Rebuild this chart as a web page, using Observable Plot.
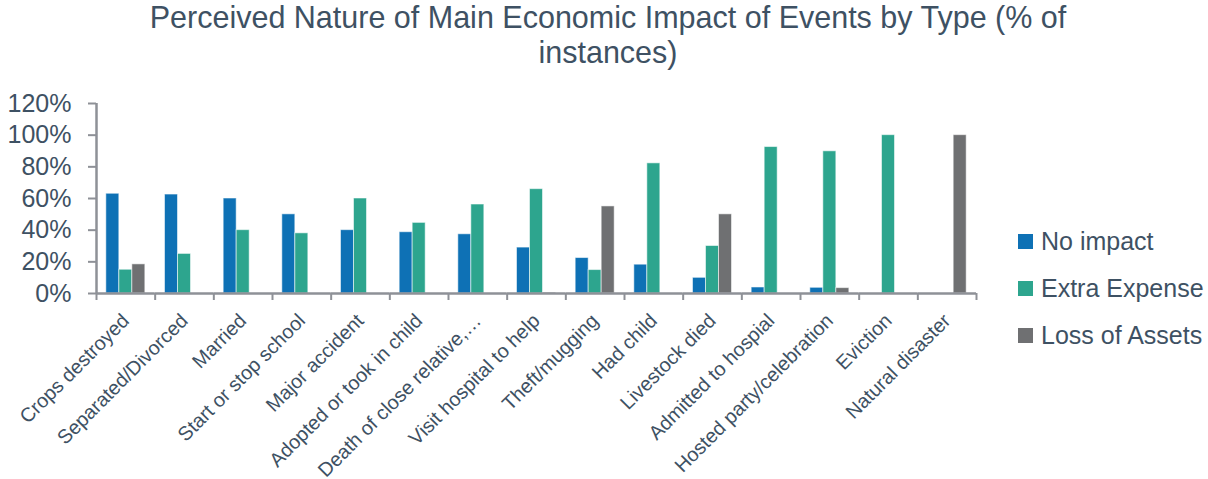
<!DOCTYPE html>
<html>
<head>
<meta charset="utf-8">
<script src="https://cdn.jsdelivr.net/npm/d3@7"></script>
<script src="https://cdn.jsdelivr.net/npm/@observablehq/plot@0.6"></script>
<style>
  html, body { margin: 0; padding: 0; background: #fff; }
  #wrap { position: relative; width: 1208px; height: 479px; overflow: hidden; font-family: "Liberation Sans", Arial, sans-serif; color: #44546A; }
  #title { position: absolute; top: 0px; left: 4px; width: 1208px; text-align: center; font-size: 30.5px; line-height: 35px; color: #3E5163; }
  #chart { position: absolute; top: 0; left: 0; }
  #legend { position: absolute; left: 1018px; top: 218px; }
  .item { display: flex; align-items: center; height: 47px; font-size: 25px; color: #3E5163; }
  .sw { width: 15px; height: 15px; margin-right: 8px; }
</style>
</head>
<body>
<div id="wrap">
  <div id="chart"></div>
  <div id="title">Perceived Nature of Main Economic Impact of Events by Type (% of<br>instances)</div>
  <div id="legend"></div>
</div>
<script>
const categories = ["Crops destroyed", "Separated/Divorced", "Married", "Start or stop school", "Major accident", "Adopted or took in child", "Death of close relative,\u2026", "Visit hospital to help", "Theft/mugging", "Had child", "Livestock died", "Admitted to hospial", "Hosted party/celebration", "Eviction", "Natural disaster"];
const seriesNames = ["No impact", "Extra Expense", "Loss of Assets"];
const noImpact = [63, 62.5, 60, 50, 40, 38.7, 37.4, 29, 22.4, 18.2, 9.9, 3.8, 3.6, 0, 0];
const extraExpense = [15, 25, 40, 38, 60, 44.6, 56.2, 65.9, 14.8, 82.2, 30, 92.5, 89.8, 100, 0];
const lossOfAssets = [18.4, 0, 0, 0, 0, 0, 0, 0.5, 55, 0, 50, 0, 3.4, 0, 100];
const colors = ["#0E71B5", "#2DA58E", "#6F7072"];
const yTicks = [0, 20, 40, 60, 80, 100, 120];

const seriesValues = [noImpact, extraExpense, lossOfAssets];
const rows = categories.flatMap((c, i) => seriesNames.map((s, j) => ({cat: c, series: s, value: seriesValues[j][i]})));

const W = 1208, H = 479, mL = 96, mR = 232, mT = 103, mB = 186;
const padIn = 0.335, padOut = padIn / 2;
const step = (W - mL - mR) / categories.length;
const outer = step * padOut;                          // frame edge to first facet
const halfGap = step * padIn / 2;                     // half gap between facets
const seriesBand = step * (1 - padIn) / seriesNames.length;
const axisStroke = "#8E9197";
const textColor = "#3E5163";

const chart = Plot.plot({
  width: W, height: H,
  marginTop: mT, marginBottom: mB, marginLeft: mL, marginRight: mR,
  style: {fontFamily: "'Liberation Sans', Arial, sans-serif", background: "transparent", color: textColor},
  fx: {domain: categories, paddingInner: padIn, paddingOuter: padOut, round: false, axis: null, label: null},
  x: {domain: seriesNames, padding: 0, round: false, axis: null, label: null},
  y: {domain: [0, 120], axis: null, label: null},
  color: {domain: seriesNames, range: colors},
  marks: [
    Plot.barY(rows, {fx: "cat", x: "series", y: "value", fill: "series", stroke: "#ffffff", strokeOpacity: 0.55, strokeWidth: 1}),
    Plot.ruleY([0], {stroke: axisStroke, strokeWidth: 2.5, insetLeft: -halfGap, insetRight: -halfGap}),
    Plot.ruleX([seriesNames[0]], {fx: [categories[0]], x: d => d, y1: 0, y2: 120, stroke: axisStroke, strokeWidth: 2.5, dx: -(outer + seriesBand / 2)}),
    Plot.axisY({ticks: yTicks, tickFormat: d => d + "%", tickSize: 8, tickPadding: 17, fontSize: 25, stroke: axisStroke, strokeWidth: 2, fill: textColor, dx: -outer, label: null}),
    Plot.axisFx({anchor: "bottom", tickSize: 7, text: null, stroke: axisStroke, strokeWidth: 2, dx: -step / 2, label: null}),
    Plot.axisFx({anchor: "bottom", ticks: [categories[categories.length - 1]], tickSize: 7, text: null, stroke: axisStroke, strokeWidth: 2, dx: step / 2, label: null}),
    Plot.axisFx({anchor: "bottom", tickSize: 0, tickPadding: 24, tickRotate: -45, fontSize: 19.8, fill: textColor, dx: 0, label: null, textOverflow: null, lineWidth: 40})
  ]
});
document.getElementById("chart").appendChild(chart);

const legend = document.getElementById("legend");
seriesNames.forEach((s, i) => {
  const d = document.createElement("div");
  d.className = "item";
  d.innerHTML = `<span class="sw" style="background:${colors[i]}"></span><span>${s}</span>`;
  legend.appendChild(d);
});
</script>
</body>
</html>
